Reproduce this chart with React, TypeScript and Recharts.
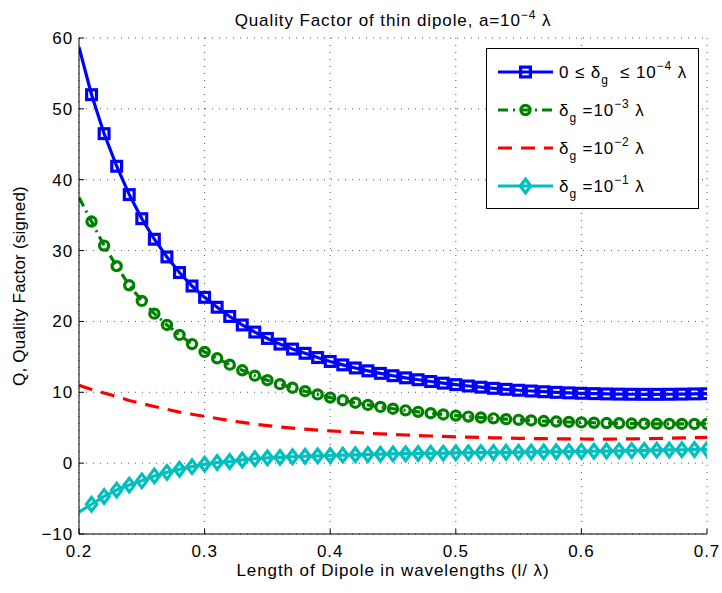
import React from 'react';
import { LineChart, Line, XAxis, YAxis, CartesianGrid, Legend, Customized } from 'recharts';

const xs = [0.2, 0.21, 0.22, 0.23, 0.24, 0.25, 0.26, 0.27, 0.28, 0.29, 0.3, 0.31, 0.32, 0.33, 0.34, 0.35, 0.36, 0.37, 0.38, 0.39, 0.4, 0.41, 0.42, 0.43, 0.44, 0.45, 0.46, 0.47, 0.48, 0.49, 0.5, 0.51, 0.52, 0.53, 0.54, 0.55, 0.56, 0.57, 0.58, 0.59, 0.6, 0.61, 0.62, 0.63, 0.64, 0.65, 0.66, 0.67, 0.68, 0.69, 0.7];

const qGap4 = [58.7, 52.0, 46.5, 41.9, 37.9, 34.5, 31.6, 29.1, 26.9, 25.0, 23.4, 22.0, 20.7, 19.5, 18.5, 17.6, 16.8, 16.1, 15.5, 14.9, 14.35, 13.87, 13.43, 13.03, 12.67, 12.34, 12.04, 11.77, 11.52, 11.29, 11.08, 10.89, 10.72, 10.56, 10.42, 10.29, 10.18, 10.08, 9.99, 9.92, 9.86, 9.81, 9.77, 9.74, 9.72, 9.71, 9.71, 9.72, 9.74, 9.77, 9.8];

const qGap3 = [37.5, 34.1, 30.7, 27.8, 25.1, 22.9, 21.1, 19.5, 18.1, 16.8, 15.7, 14.8, 13.9, 13.1, 12.35, 11.7, 11.15, 10.65, 10.15, 9.7, 9.25, 8.88, 8.53, 8.22, 7.94, 7.68, 7.45, 7.24, 7.05, 6.87, 6.71, 6.57, 6.44, 6.32, 6.21, 6.11, 6.02, 5.94, 5.87, 5.81, 5.75, 5.7, 5.66, 5.62, 5.59, 5.57, 5.55, 5.54, 5.53, 5.53, 5.54];

const qGap2 = [11.0, 10.4, 9.9, 9.4, 8.85, 8.4, 8.0, 7.6, 7.2, 6.9, 6.6, 6.3, 6.0, 5.75, 5.5, 5.3, 5.1, 4.95, 4.8, 4.65, 4.55, 4.45, 4.33, 4.22, 4.13, 4.04, 3.97, 3.9, 3.83, 3.77, 3.72, 3.67, 3.62, 3.58, 3.55, 3.5, 3.48, 3.45, 3.43, 3.42, 3.41, 3.4, 3.4, 3.41, 3.43, 3.45, 3.48, 3.52, 3.56, 3.6, 3.65];

const qGap1 = [-6.9, -5.8, -4.7, -3.8, -3.1, -2.5, -1.8, -1.3, -0.87, -0.5, -0.15, 0.09, 0.23, 0.45, 0.62, 0.75, 0.82, 0.9, 0.97, 1.03, 1.08, 1.13, 1.18, 1.22, 1.26, 1.3, 1.33, 1.36, 1.39, 1.42, 1.45, 1.47, 1.49, 1.51, 1.53, 1.55, 1.57, 1.59, 1.61, 1.63, 1.65, 1.68, 1.71, 1.74, 1.77, 1.8, 1.83, 1.86, 1.89, 1.92, 1.95];

const xTicks = [0.2, 0.3, 0.4, 0.5, 0.6, 0.7];
const yTicks = [-10, 0, 10, 20, 30, 40, 50, 60];

const titleText = 'Quality Factor of thin dipole, a=10';
const xLabel = 'Length of Dipole in wavelengths (l/ \u03bb)';
const yLabel = 'Q, Quality Factor (signed)';

const data = xs.map((x, i) => ({ x, q4: qGap4[i], q3: qGap3[i], q2: qGap2[i], q1: qGap1[i] }));

const BLUE = '#0000FF';
const GREEN = '#008000';
const RED = '#FF0000';
const CYAN = '#00BFBF';
const FONT = '"Liberation Sans", Arial, Helvetica, sans-serif';
const LS = 0.9;

const W = 722;
const H = 593;
const M = { top: 38, right: 15, left: 0, bottom: 0 };
const YW = 79;
const XH = 59;
const LW = 3.2;
const MW = 3.2;

const squareShape = (cx: number, cy: number, k?: any) => (
  <rect key={k} x={cx - 4.9} y={cy - 4.9} width={9.8} height={9.8} fill="none" stroke={BLUE} strokeWidth={MW} />
);
const circleShape = (cx: number, cy: number, k?: any) => (
  <circle key={k} cx={cx} cy={cy} r={4.6} fill="none" stroke={GREEN} strokeWidth={MW} />
);
const diamondShape = (cx: number, cy: number, k?: any) => (
  <path key={k} d={`M${cx},${cy - 6.8}L${cx + 5.2},${cy}L${cx},${cy + 6.8}L${cx - 5.2},${cy}Z`} fill="none" stroke={CYAN} strokeWidth={MW} />
);

const makeDot = (shape: (cx: number, cy: number, k?: any) => React.ReactElement) => (props: any) => {
  const { cx, cy, index } = props;
  if (index === 0 || cx == null || cy == null) return <g key={`d${index}`} />;
  return shape(cx, cy, `d${index}`);
};

const fmtY = (v: number) => (v < 0 ? '\u2212' + Math.abs(v) : String(v));
const fmtX = (v: number) => String(v);

const LegendContent = () => {
  const rows = [
    { key: 'q4', color: BLUE, dash: undefined as string | undefined, shape: squareShape },
    { key: 'q3', color: GREEN, dash: '10 5 2 5', shape: circleShape },
    { key: 'q2', color: RED, dash: '14 9', shape: null as any },
    { key: 'q1', color: CYAN, dash: undefined, shape: diamondShape },
  ];
  const rowY = [24, 62, 100, 138];
  const lx1 = 12;
  const lx2 = 67;
  const tx = 73;
  const fs = 17;
  const small = 12;
  const tp = { fontSize: fs, fontFamily: FONT, fill: '#000', letterSpacing: LS };
  const gsub = (i: number, exp: string) => (
    <>
      <tspan dy={6} fontSize={small}>g</tspan>
      <tspan dy={-6}>{i === 0 ? '\u00a0\u00a0\u2264 10' : ' =10'}</tspan>
      <tspan dy={-8} fontSize={small}>{exp}</tspan>
      <tspan dy={8}> {'\u03bb'}</tspan>
    </>
  );
  return (
    <svg width={213} height={161} style={{ display: 'block', overflow: 'visible' }}>
      <rect x={0.5} y={0.5} width={212} height={160} fill="#fff" stroke="#000" strokeWidth={1} />
      {rows.map((r, i) => (
        <g key={r.key}>
          <line x1={lx1} x2={lx2} y1={rowY[i]} y2={rowY[i]} stroke={r.color} strokeWidth={LW} strokeDasharray={r.dash} />
          {r.shape ? r.shape((lx1 + lx2) / 2, rowY[i]) : null}
        </g>
      ))}
      <text x={tx} y={rowY[0] + 6} {...tp}>0 {'\u2264'} {'\u03b4'}{gsub(0, '\u22124')}</text>
      <text x={tx} y={rowY[1] + 6} {...tp}>{'\u03b4'}{gsub(1, '\u22123')}</text>
      <text x={tx} y={rowY[2] + 6} {...tp}>{'\u03b4'}{gsub(2, '\u22122')}</text>
      <text x={tx} y={rowY[3] + 6} {...tp}>{'\u03b4'}{gsub(3, '\u22121')}</text>
    </svg>
  );
};

const Title = () => (
  <text x={YW + (W - YW - M.right) / 2} y={26} textAnchor="middle" fontSize={17} fontFamily={FONT} fill="#000" letterSpacing={LS}>
    {titleText}
    <tspan dy={-7} fontSize={12}>{'\u22124'}</tspan>
    <tspan dy={7}> {'\u03bb'}</tspan>
  </text>
);

const YLabel = (props: any) => {
  const vb = props.viewBox || {};
  const cx = 19;
  const cy = vb.y + vb.height / 2;
  return (
    <text x={cx} y={cy} transform={`rotate(-90 ${cx} ${cy})`} textAnchor="middle" dominantBaseline="central" fontSize={17} fontFamily={FONT} fill="#000" letterSpacing={0.2}>
      {yLabel}
    </text>
  );
};

const XLabel = (props: any) => {
  const vb = props.viewBox || {};
  const cx = vb.x + vb.width / 2;
  return (
    <text x={cx} y={vb.y + 42} textAnchor="middle" fontSize={17} fontFamily={FONT} fill="#000" letterSpacing={LS}>
      {xLabel}
    </text>
  );
};

export default function App() {
  const tickStyle = { fontSize: 17, fontFamily: FONT, fill: '#000', letterSpacing: LS };
  return (
    <div style={{ position: 'absolute', left: 0, top: 0, width: W, height: H, background: '#fff' }}>
      <LineChart width={W} height={H} data={data} margin={M}>
        <CartesianGrid xAxisId="b" yAxisId="l" stroke="#555" strokeDasharray="1 6" strokeWidth={1} />
        <XAxis
          xAxisId="b"
          dataKey="x"
          type="number"
          domain={[0.2, 0.7]}
          ticks={xTicks}
          tickFormatter={fmtX}
          height={XH}
          stroke="#000"
          tickSize={-5}
          tickMargin={16}
          tick={tickStyle}
          label={<XLabel />}
          allowDataOverflow
        />
        <XAxis
          xAxisId="t"
          dataKey="x"
          type="number"
          orientation="top"
          domain={[0.2, 0.7]}
          ticks={xTicks}
          height={0}
          stroke="#000"
          tickSize={-5}
          tick={false}
        />
        <YAxis
          yAxisId="l"
          type="number"
          domain={[-10, 60]}
          ticks={yTicks}
          tickFormatter={fmtY}
          width={YW}
          stroke="#000"
          tickSize={-5}
          tickMargin={11}
          tick={tickStyle}
          label={<YLabel />}
          allowDataOverflow
        />
        <YAxis
          yAxisId="r"
          type="number"
          orientation="right"
          domain={[-10, 60]}
          ticks={yTicks}
          width={0}
          stroke="#000"
          tickSize={-5}
          tick={false}
        />
        <Line xAxisId="b" yAxisId="l" type="linear" dataKey="q4" stroke={BLUE} strokeWidth={LW} dot={makeDot(squareShape)} activeDot={false} isAnimationActive={false} />
        <Line xAxisId="b" yAxisId="l" type="linear" dataKey="q3" stroke={GREEN} strokeWidth={LW} strokeDasharray="10 5 2 5" dot={makeDot(circleShape)} activeDot={false} isAnimationActive={false} />
        <Line xAxisId="b" yAxisId="l" type="linear" dataKey="q2" stroke={RED} strokeWidth={LW} strokeDasharray="14 9" dot={false} activeDot={false} isAnimationActive={false} />
        <Line xAxisId="b" yAxisId="l" type="linear" dataKey="q1" stroke={CYAN} strokeWidth={LW} dot={makeDot(diamondShape)} activeDot={false} isAnimationActive={false} />
        <Legend
          layout="vertical"
          align="center"
          verticalAlign="middle"
          content={<LegendContent />}
          wrapperStyle={{ position: 'absolute', left: 486, top: 48, width: 213, height: 161, margin: 0, padding: 0 }}
        />
        <Customized component={<Title />} />
      </LineChart>
    </div>
  );
}
